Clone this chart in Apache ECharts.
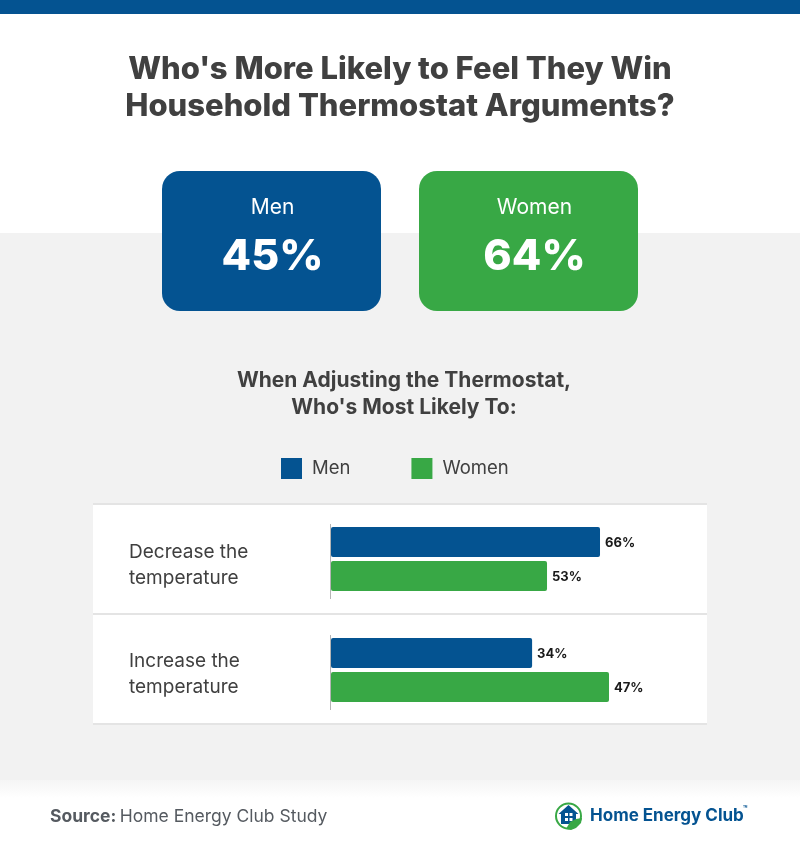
<!DOCTYPE html>
<html><head><meta charset="utf-8">
<style>html,body{margin:0;padding:0;background:#fff}#c{width:800px;height:850px}</style>
<script src="https://cdn.jsdelivr.net/npm/echarts@6/dist/echarts.min.js"></script>
</head><body><div id="c"></div>
<script>
const titleText = "Who's More Likely to Feel They Win\nHousehold Thermostat Arguments?";
const subtitleText = "When Adjusting the Thermostat,\nWho's Most Likely To:";
const seriesNames = ["Men", "Women"];
const headlineValues = [45, 64];
const categories = ["Decrease the\ntemperature", "Increase the\ntemperature"];
const menValues = [66, 34];
const womenValues = [53, 47];
const sourceLabel = "Source:";
const sourceText = "Home Energy Club Study";
const brandText = "Home Energy Club";

const BLUE = "#045391", GREEN = "#38a845", DARK = "#404040";
const FONT = "Inter, 'Open Sans', sans-serif";
const groupLayout = [
  {top: 524, axisMax: 92.25, labelCy: 565},
  {top: 635, axisMax: 63.57, labelCy: 674}
];
const chart = echarts.init(document.getElementById('c'), null, {renderer: 'canvas'});

function card(x, textCx, color, name, value) {
  return [
    {type: 'rect', shape: {x, y: 171, width: 219, height: 140, r: 18}, style: {fill: color}, z: 2},
    {type: 'text', x: textCx, y: 208, z: 3, style: {text: name, fill: '#fff', font: '400 21px ' + FONT, align: 'center', verticalAlign: 'middle'}},
    {type: 'text', x: textCx, y: 257, z: 3, style: {text: value + '%', fill: '#fff', font: '800 43px ' + FONT, align: 'center', verticalAlign: 'middle'}}
  ];
}
const graphics = [
  {type: 'rect', shape: {x: 0, y: 0, width: 800, height: 14}, style: {fill: BLUE}},
  {type: 'rect', shape: {x: 0, y: 233, width: 800, height: 547}, style: {fill: '#f2f2f2'}},
  {type: 'rect', shape: {x: 0, y: 780, width: 800, height: 18}, style: {fill: new echarts.graphic.LinearGradient(0, 0, 0, 1, [{offset: 0, color: '#f5f5f5'}, {offset: 1, color: '#ffffff'}])}},
  {type: 'rect', shape: {x: 93, y: 503, width: 614, height: 222}, style: {fill: '#ffffff'}},
  {type: 'rect', shape: {x: 93, y: 503, width: 614, height: 2}, style: {fill: '#e4e4e4'}},
  {type: 'rect', shape: {x: 93, y: 613, width: 614, height: 2}, style: {fill: '#e4e4e4'}},
  {type: 'rect', shape: {x: 93, y: 723, width: 614, height: 2}, style: {fill: '#e4e4e4'}},
  {type: 'rect', shape: {x: 330, y: 524, width: 1, height: 75}, style: {fill: '#b5b5b5'}},
  {type: 'rect', shape: {x: 330, y: 635, width: 1, height: 75}, style: {fill: '#b5b5b5'}},
  ...groupLayout.map((g, i) => ({
    type: 'text', x: 129, y: g.labelCy, z: 3,
    style: {text: categories[i], fill: DARK, font: '400 19px ' + FONT, lineHeight: 26, align: 'left', verticalAlign: 'middle'}
  })),
  ...card(162, 272.5, BLUE, seriesNames[0], headlineValues[0]),
  ...card(419, 534.5, GREEN, seriesNames[1], headlineValues[1]),
  {type: 'text', x: 50, y: 817, style: {
    text: '{b|' + sourceLabel + '} {n|' + sourceText + '}',
    verticalAlign: 'middle',
    rich: {b: {font: '700 17.5px ' + FONT, fill: '#555a60'}, n: {font: '400 17.5px ' + FONT, fill: '#555a60'}}
  }},
  {type: 'ring', shape: {cx: 568.5, cy: 816, r: 13.5, r0: 11.5}, style: {fill: GREEN}},
  {type: 'polygon', shape: {points: [[558.5, 814], [568.5, 805], [578.5, 814], [576, 814], [576, 824], [561, 824], [561, 814]]}, style: {fill: BLUE}},
  {type: 'rect', shape: {x: 565, y: 813, width: 3, height: 3}, style: {fill: '#fff'}},
  {type: 'rect', shape: {x: 569.5, y: 813, width: 3, height: 3}, style: {fill: '#fff'}},
  {type: 'rect', shape: {x: 565, y: 818, width: 3, height: 3}, style: {fill: '#fff'}},
  {type: 'rect', shape: {x: 569.5, y: 818, width: 3, height: 3}, style: {fill: '#fff'}},
  {type: 'polygon', shape: {points: [[566, 829], [570, 822], [576, 819], [582, 818], [581, 823], [576, 828], [571, 830]]}, style: {fill: GREEN}},
  {type: 'text', x: 590, y: 816, style: {text: brandText, fill: BLUE, font: '700 17px ' + FONT, verticalAlign: 'middle'}},
  {type: 'text', x: 743, y: 809, style: {text: '\u2122', fill: BLUE, font: '700 7px ' + FONT, verticalAlign: 'middle'}}
];

const grids = [], xAxes = [], yAxes = [], series = [];
groupLayout.forEach((g, i) => {
  grids.push({left: 331, top: g.top, width: 376, height: 70, containLabel: false});
  xAxes.push({gridIndex: i, type: 'value', min: 0, max: g.axisMax, show: false});
  yAxes.push({
    gridIndex: i, type: 'category', data: [categories[i]],
    axisLine: {show: false}, axisTick: {show: false}, axisLabel: {show: false}
  });
  [[seriesNames[0], menValues[i], BLUE], [seriesNames[1], womenValues[i], GREEN]].forEach(([name, v, color]) => {
    series.push({
      name, type: 'bar', xAxisIndex: i, yAxisIndex: i, data: [v], barWidth: 30, barGap: '13.33%',
      itemStyle: {color, borderRadius: 2},
      label: {show: true, position: 'right', distance: 5, offset: [0, 1], formatter: '{c}%', color: '#1a1a1a', fontFamily: FONT, fontWeight: 700, fontSize: 13}
    });
  });
});

chart.setOption({
  animation: false,
  title: [
    {text: titleText, left: 'center', top: 46, textStyle: {fontFamily: FONT, fontWeight: 800, fontSize: 31, lineHeight: 37, color: DARK}},
    {text: subtitleText, left: 399, textAlign: 'center', top: 362, textStyle: {fontFamily: FONT, fontWeight: 700, fontSize: 21, lineHeight: 27, color: DARK}}
  ],
  legend: {
    left: 276, top: 453, icon: 'rect', itemWidth: 21, itemHeight: 21, itemGap: 61, data: seriesNames,
    textStyle: {color: DARK, fontFamily: FONT, fontSize: 18.5, padding: [0, 0, 0, 5]}
  },
  graphic: {elements: graphics},
  grid: grids, xAxis: xAxes, yAxis: yAxes, series
});
</script></body></html>
